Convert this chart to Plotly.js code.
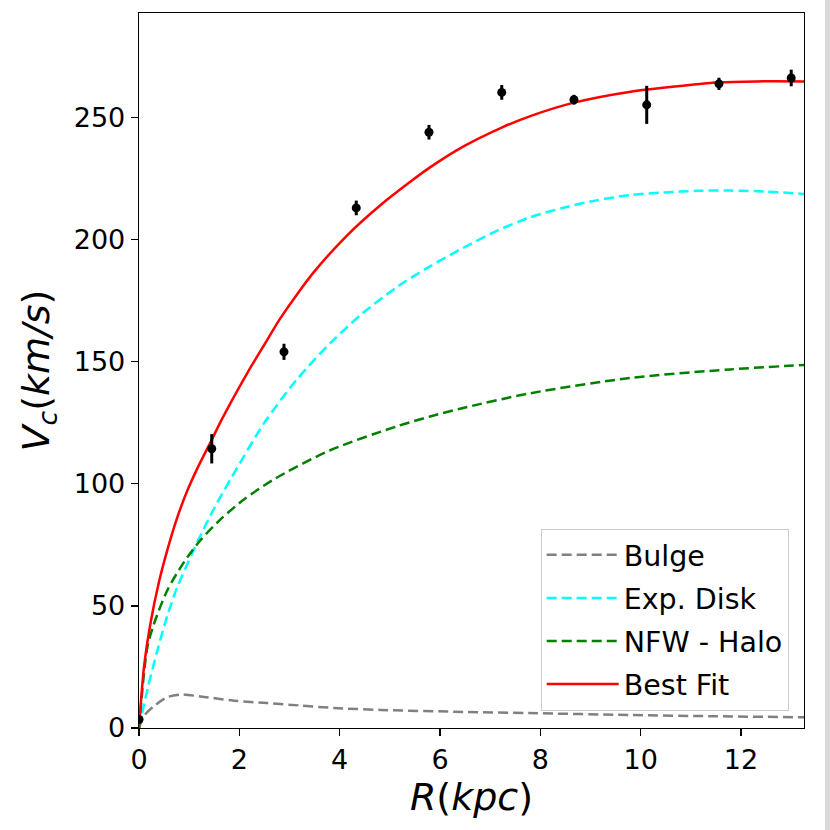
<!DOCTYPE html>
<html>
<head>
<meta charset="utf-8">
<script src="https://cdn.plot.ly/plotly-3.0.1.min.js"></script>
<style>
  html, body { margin: 0; padding: 0; background: #fff; }
  #chart { width: 830px; height: 830px; }
</style>
</head>
<body>
<div id="chart"></div>
<script>

// observed circular velocities
var R_OBS = [0, 1.45, 2.89, 4.33, 5.78, 7.23, 8.67, 10.12, 11.56, 13.0];
var V_OBS = [3.5, 114.3, 154.0, 212.9, 243.9, 260.2, 257.2, 255.1, 263.7, 266.1];
var V_ERR = [1.0, 6.0, 3.3, 3.0, 3.0, 3.0, 2.0, 7.8, 2.5, 3.4];

// bulge
var R_BULGE = [0, 0.1, 0.3, 0.565, 0.83, 1.23, 1.89, 2.56, 3.22, 3.89, 4.82, 6.46, 7.79, 9.79, 11.5, 13.26];
var V_BULGE = [0, 5, 9, 12.6, 13.7, 12.9, 11.2, 10.2, 9.2, 8.2, 7.4, 6.6, 6.1, 5.3, 4.8, 4.4];

// exponential disk
var R_DISK = [0, 0.17, 0.37, 0.565, 0.76, 1.06, 1.23, 1.5, 1.83, 2.5, 3.14, 3.81, 4.47, 5.14, 5.8, 6.46, 7.13, 7.79, 8.46, 9.12, 9.79, 10.45, 11.12, 11.78, 12.5, 13.26];
var V_DISK = [0, 16, 32, 46, 57.5, 71.5, 79, 90, 102, 125, 142.5, 157.5, 170, 180.5, 189, 196.5, 203.5, 209, 213, 216, 218.2, 219.2, 219.9, 220, 219.6, 218.6];

// NFW halo
var R_HALO = [0, 0.166, 0.3, 0.565, 0.9, 1.23, 1.63, 2.09, 2.69, 3.81, 5.14, 5.8, 6.46, 7.79, 9.79, 11.78, 13.26];
var V_HALO = [0, 33, 42.7, 56.4, 68, 77, 85.5, 93.5, 101.8, 113.7, 123.5, 127.5, 131, 137, 143.3, 146.8, 148.6];

// best fit total
var R_FIT = [0, 0.1, 0.23, 0.4, 0.56, 0.76, 0.96, 1.18, 1.45, 1.63, 1.81, 2.15, 2.5, 2.81, 3.15, 3.48, 4.14, 4.81, 5.4, 5.8, 6.46, 7.23, 7.8, 8.67, 9.8, 11.1, 11.55, 12.3, 13.26];
var V_FIT = [0, 25, 43, 60, 72.5, 86, 97, 107, 118, 125.5, 132.5, 145, 157, 167.5, 177.5, 186.5, 201.5, 214, 223.5, 229.5, 238, 245.8, 250.5, 256, 260.5, 263.5, 264.3, 264.7, 264.7];

var X_TICKS = [0, 2, 4, 6, 8, 10, 12];
var Y_TICKS = [0, 50, 100, 150, 200, 250];

var FONT = "DejaVu Sans";
var DASH = "10px,5px";

function curve(name, xs, ys, color, dash) {
  return {
    type: "scatter", mode: "lines", name: name, x: xs, y: ys,
    legendgroup: name,
    line: { color: color, width: 2.5, dash: dash, shape: "spline", smoothing: 0.8 }
  };
}

var traces = [
  curve("Bulge", R_BULGE, V_BULGE, "#808080", DASH),
  curve("Exp. Disk", R_DISK, V_DISK, "#00ffff", DASH),
  curve("NFW - Halo", R_HALO, V_HALO, "#008000", DASH),
  curve("Best Fit", R_FIT, V_FIT, "#ff0000", "solid"),
  {
    type: "scatter", mode: "markers", x: R_OBS, y: V_OBS, showlegend: false,
    marker: { color: "#000", size: 9 },
    error_y: { type: "data", array: V_ERR, visible: true, color: "#000", thickness: 3, width: 0 }
  }
];

var axisBase = {
  showline: true, mirror: true, linecolor: "#000", linewidth: 1.3,
  ticks: "outside", ticklen: 7, tickwidth: 1.3, tickcolor: "#000",
  showgrid: false, zeroline: false,
  tickfont: { family: FONT, size: 27, color: "#000" }
};

var layout = {
  width: 830, height: 830,
  paper_bgcolor: "#fff", plot_bgcolor: "#fff",
  margin: { l: 139, r: 26, t: 13, b: 102 },
  font: { family: FONT, color: "#000" },
  xaxis: Object.assign({}, axisBase, {
    range: [0, 13.255], tickvals: X_TICKS,
    title: { text: "<i>R</i>(<i>kpc</i>)", font: { family: FONT, size: 38, color: "#000" }, standoff: 8 }
  }),
  yaxis: Object.assign({}, axisBase, {
    range: [0, 292.7], tickvals: Y_TICKS,
    title: { text: "<i>V<sub>c</sub></i>(<i>km/s</i>)", font: { family: FONT, size: 38, color: "#000" }, standoff: 12 }
  }),
  showlegend: true,
  legend: {
    x: 0.977, y: 0.024, xanchor: "right", yanchor: "bottom",
    bgcolor: "rgba(255,255,255,0.8)", bordercolor: "#cccccc", borderwidth: 1,
    font: { family: FONT, size: 28.5, color: "#000" },
    itemwidth: 72,
    tracegroupgap: 3
  },
  shapes: [
    { type: "rect", xref: "paper", yref: "paper", x0: 1.0316, x1: 1.045, y0: -0.15, y1: 1.02,
      fillcolor: "#d9d9d9", line: { width: 0 }, layer: "below" }
  ]
};

Plotly.newPlot("chart", traces, layout, { displayModeBar: false, staticPlot: true });
</script>
</body>
</html>
